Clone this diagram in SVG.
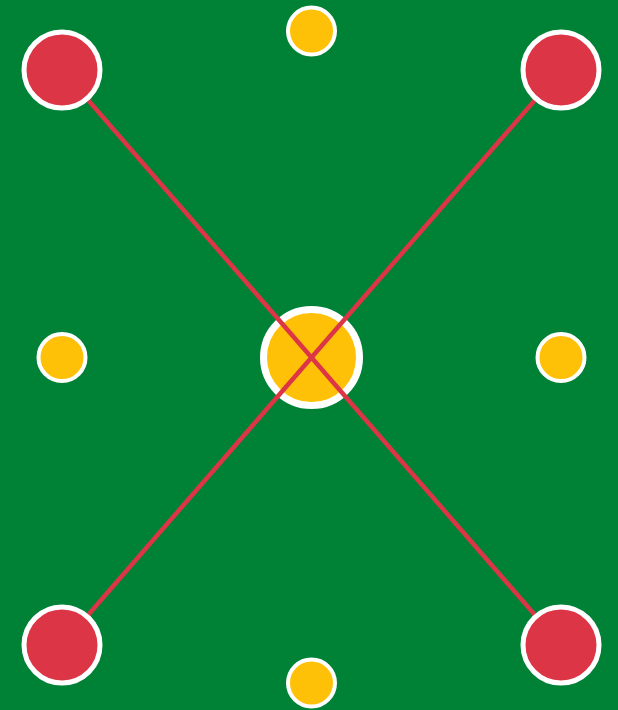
<svg xmlns="http://www.w3.org/2000/svg" width="618" height="710" viewBox="0 0 618 710">
<style>
.red{fill:#DC3545;stroke:#FFFFFF;stroke-width:5}
.hub{fill:#FFC107;stroke:#FFFFFF;stroke-width:7}
.dot{fill:#FFC107;stroke:#FFFFFF;stroke-width:4}
.ln{stroke:#DC3545;stroke-width:4.5;fill:none}
</style>
<rect x="0" y="0" width="618" height="710" fill="#008236"/>
<g id="hub"><circle class="hub" cx="311.5" cy="357.5" r="48"/></g>
<g id="connectors">
<line class="ln" x1="62" y1="70" x2="311.5" y2="357.5"/>
<line class="ln" x1="561" y1="70" x2="311.5" y2="357.5"/>
<line class="ln" x1="62" y1="645" x2="311.5" y2="357.5"/>
<line class="ln" x1="561" y1="645" x2="311.5" y2="357.5"/>
</g>
<g id="top-left"><circle class="red" cx="62" cy="70" r="38"/></g>
<g id="top-right"><circle class="red" cx="561" cy="70" r="38"/></g>
<g id="bottom-left"><circle class="red" cx="62" cy="645" r="38"/></g>
<g id="bottom-right"><circle class="red" cx="561" cy="645" r="38"/></g>
<g id="top"><circle class="dot" cx="311.5" cy="31" r="23.5"/></g>
<g id="left"><circle class="dot" cx="62" cy="357.5" r="23.5"/></g>
<g id="right"><circle class="dot" cx="561" cy="357.5" r="23.5"/></g>
<g id="bottom"><circle class="dot" cx="311.5" cy="683" r="23.5"/></g>
</svg>
